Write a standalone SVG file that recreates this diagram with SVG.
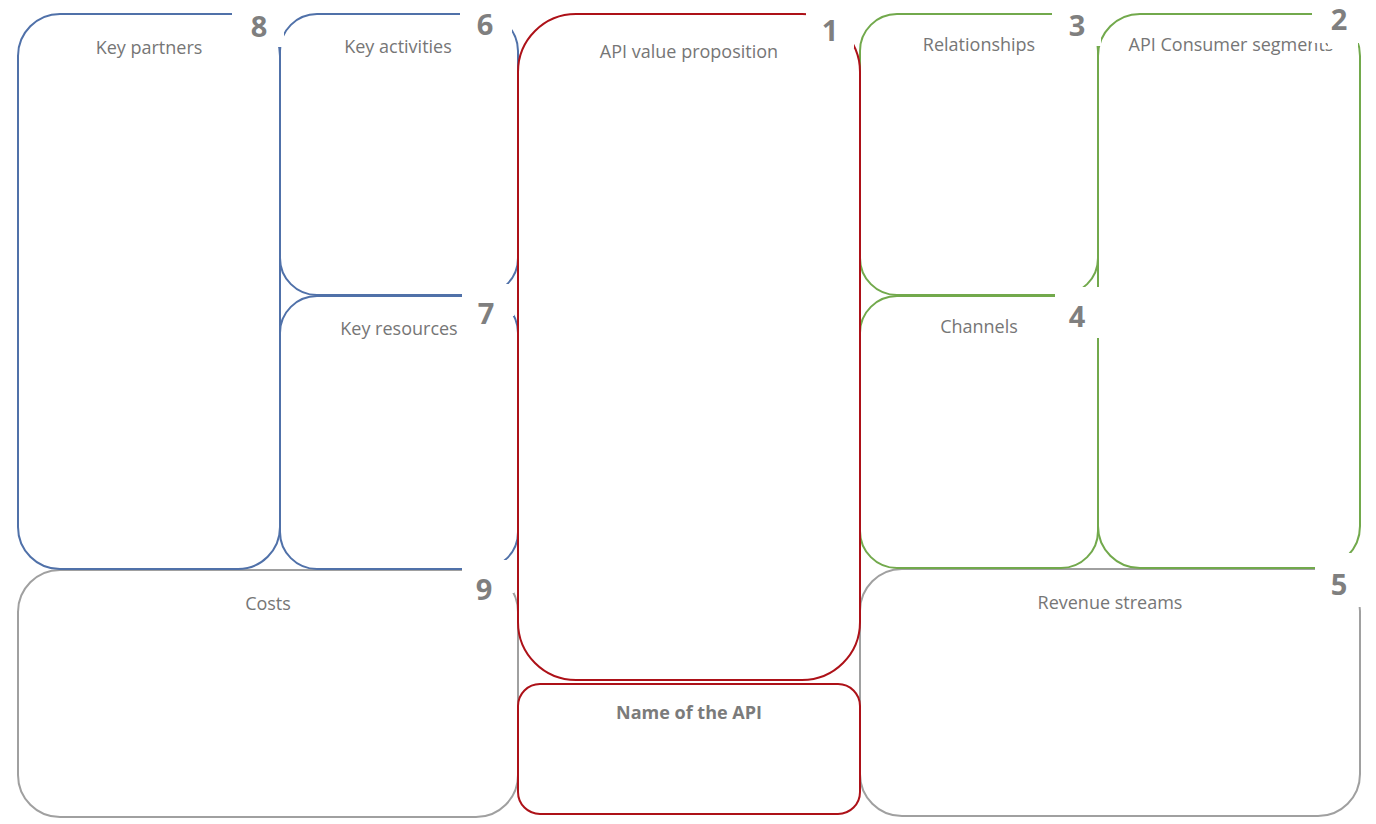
<svg xmlns="http://www.w3.org/2000/svg" width="1376" height="824" viewBox="0 0 1376 824">
<style>
.box{fill:none;stroke-width:2}
.blue{stroke:#5071a9}
.green{stroke:#72a94c}
.red{stroke:#ad1118}
.gray{stroke:#a0a0a0}
.lbl{font-family:"Open Sans","Liberation Sans",sans-serif;font-size:18px;fill:#767676;text-anchor:middle}
.bold{font-weight:bold;fill:#7b7b7b}
.num{font-family:"Open Sans","Liberation Sans",sans-serif;font-size:29px;font-weight:bold;fill:#7f7f7f;text-anchor:middle}
.cover{fill:#ffffff}
</style>
<rect width="1376" height="824" fill="#ffffff"/>
<g id="connectors"></g>
<g id="node-9"><rect class="box gray" x="18" y="570" width="500" height="247" rx="42"/></g>
<g id="node-5"><rect class="box gray" x="860" y="569" width="500" height="247" rx="42"/></g>
<g id="node-8"><rect class="box blue" x="18" y="14" width="262" height="555" rx="42"/></g>
<g id="node-6"><rect class="box blue" x="280" y="14" width="238" height="281" rx="37"/></g>
<g id="node-7"><rect class="box blue" x="280" y="296" width="238" height="273" rx="37"/></g>
<g id="node-3"><rect class="box green" x="860" y="14" width="238" height="281" rx="37"/></g>
<g id="node-4"><rect class="box green" x="860" y="296" width="238" height="272" rx="37"/></g>
<g id="node-2"><rect class="box green" x="1098" y="14" width="262" height="554" rx="42"/></g>
<g id="node-1"><rect class="box red" x="518" y="14" width="342" height="666" rx="58"/></g>
<g id="node-name"><rect class="box red" x="518" y="684" width="342" height="130" rx="22"/></g>
<g id="labels">
<text class="lbl" x="149" y="54">Key partners</text>
<text class="lbl" x="398" y="53">Key activities</text>
<text class="lbl" x="399" y="335">Key resources</text>
<text class="lbl" x="689" y="58">API value proposition</text>
<text class="lbl bold" x="689" y="719">Name of the API</text>
<text class="lbl" x="268" y="610">Costs</text>
<text class="lbl" x="979" y="51">Relationships</text>
<text class="lbl" x="979" y="333">Channels</text>
<text class="lbl" x="1231" y="51">API Consumer segments</text>
<text class="lbl" x="1110" y="609">Revenue streams</text>
</g>
<g id="number-covers">
<rect class="cover" x="232" y="0" width="52" height="47"/>
<rect class="cover" x="460" y="0" width="52" height="46"/>
<rect class="cover" x="462" y="284" width="52" height="32"/>
<rect class="cover" x="462" y="560" width="52" height="33"/>
<rect class="cover" x="806" y="0" width="48" height="48"/>
<rect class="cover" x="1052" y="0" width="49" height="46"/>
<rect class="cover" x="1312" y="0" width="64" height="43"/>
<rect class="cover" x="1328" y="0" width="30" height="49"/>
<rect class="cover" x="1055" y="287" width="46" height="51"/>
<rect class="cover" x="1315" y="553" width="61" height="54"/>
</g>
<g id="numbers">
<text class="num" x="259" y="37">8</text>
<text class="num" x="485" y="35">6</text>
<text class="num" x="486" y="324">7</text>
<text class="num" x="484" y="600">9</text>
<text class="num" x="830" y="41">1</text>
<text class="num" x="1077" y="36">3</text>
<text class="num" x="1339" y="30">2</text>
<text class="num" x="1077" y="327">4</text>
<text class="num" x="1339" y="595">5</text>
</g>
</svg>
